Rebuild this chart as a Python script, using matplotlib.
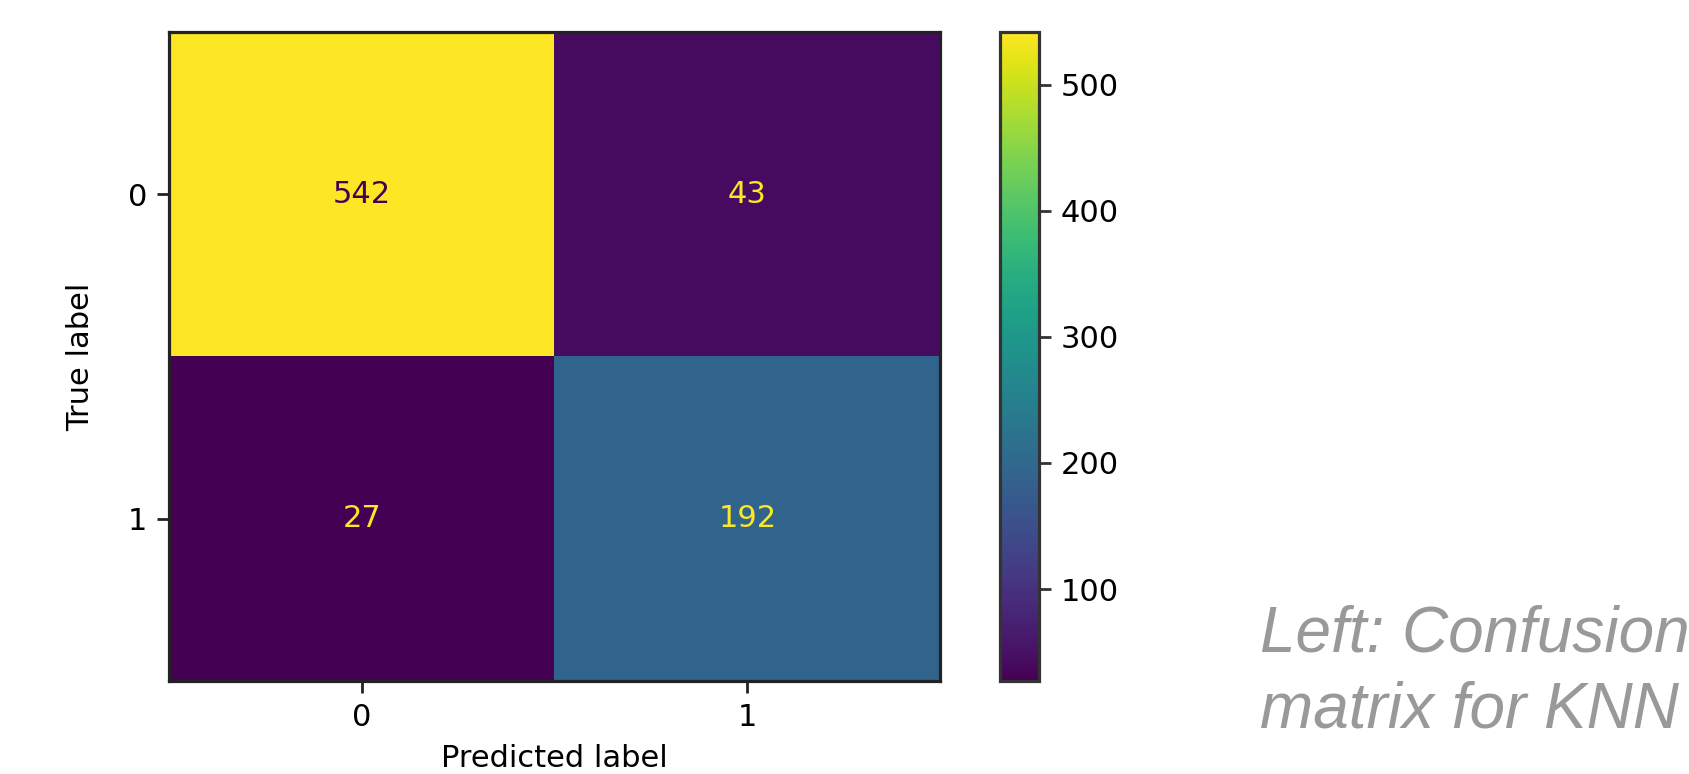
import numpy as np
import matplotlib
matplotlib.use("Agg")
import matplotlib.pyplot as plt

# Data
classes = ["0", "1"]
cm_row0 = [542, 43]
cm_row1 = [27, 192]
cbar_ticks = [100, 200, 300, 400, 500]
caption_lines = ["Left: Confusion", "matrix for KNN"]

cm = np.array([cm_row0, cm_row1])

W, H = 1689, 774
FS = 22
fig = plt.figure(figsize=(W / 100, H / 100), dpi=100)
ax = fig.add_axes([169 / W, 1 - 681 / H, (940 - 169) / W, (681 - 32) / H])
cax = fig.add_axes([1000 / W, 1 - 681 / H, 39 / W, (681 - 32) / H])

cmap = plt.get_cmap("viridis")
im = ax.imshow(cm, cmap=cmap, aspect="auto", interpolation="nearest")
vmin, vmax = cm.min(), cm.max()
thresh = (vmin + vmax) / 2
for i in range(cm.shape[0]):
    for j in range(cm.shape[1]):
        col = cmap(1.0) if cm[i, j] < thresh else cmap(0.0)
        ax.text(j, i, str(cm[i, j]), ha="center", va="center", color=col, fontsize=FS)

ax.set_xticks(range(len(classes)))
ax.set_xticklabels(classes)
ax.set_yticks(range(len(classes)))
ax.set_yticklabels(classes)
ax.set_xlabel("Predicted label", fontsize=FS, labelpad=9)
ax.set_ylabel("True label", fontsize=FS, labelpad=24)
ax.tick_params(labelsize=FS, length=8.5, width=2, pad=7, color="#222222")
for s in ax.spines.values():
    s.set_linewidth(2.3)
    s.set_color("#222222")

cb = fig.colorbar(im, cax=cax)
cb.set_ticks(cbar_ticks)
cax.tick_params(labelsize=FS, length=8.5, width=2, pad=7, color="#333333")
cb.outline.set_linewidth(2.3)
cb.outline.set_edgecolor("#333333")

fig.text(1260 / W, 1 - 652 / H, caption_lines[0], fontsize=46, style="italic",
         family="Liberation Sans", color="#999999", ha="left", va="baseline")
fig.text(1260 / W, 1 - 727 / H, caption_lines[1], fontsize=46, style="italic",
         family="Liberation Sans", color="#999999", ha="left", va="baseline")

fig.savefig("out.png", dpi=100)
